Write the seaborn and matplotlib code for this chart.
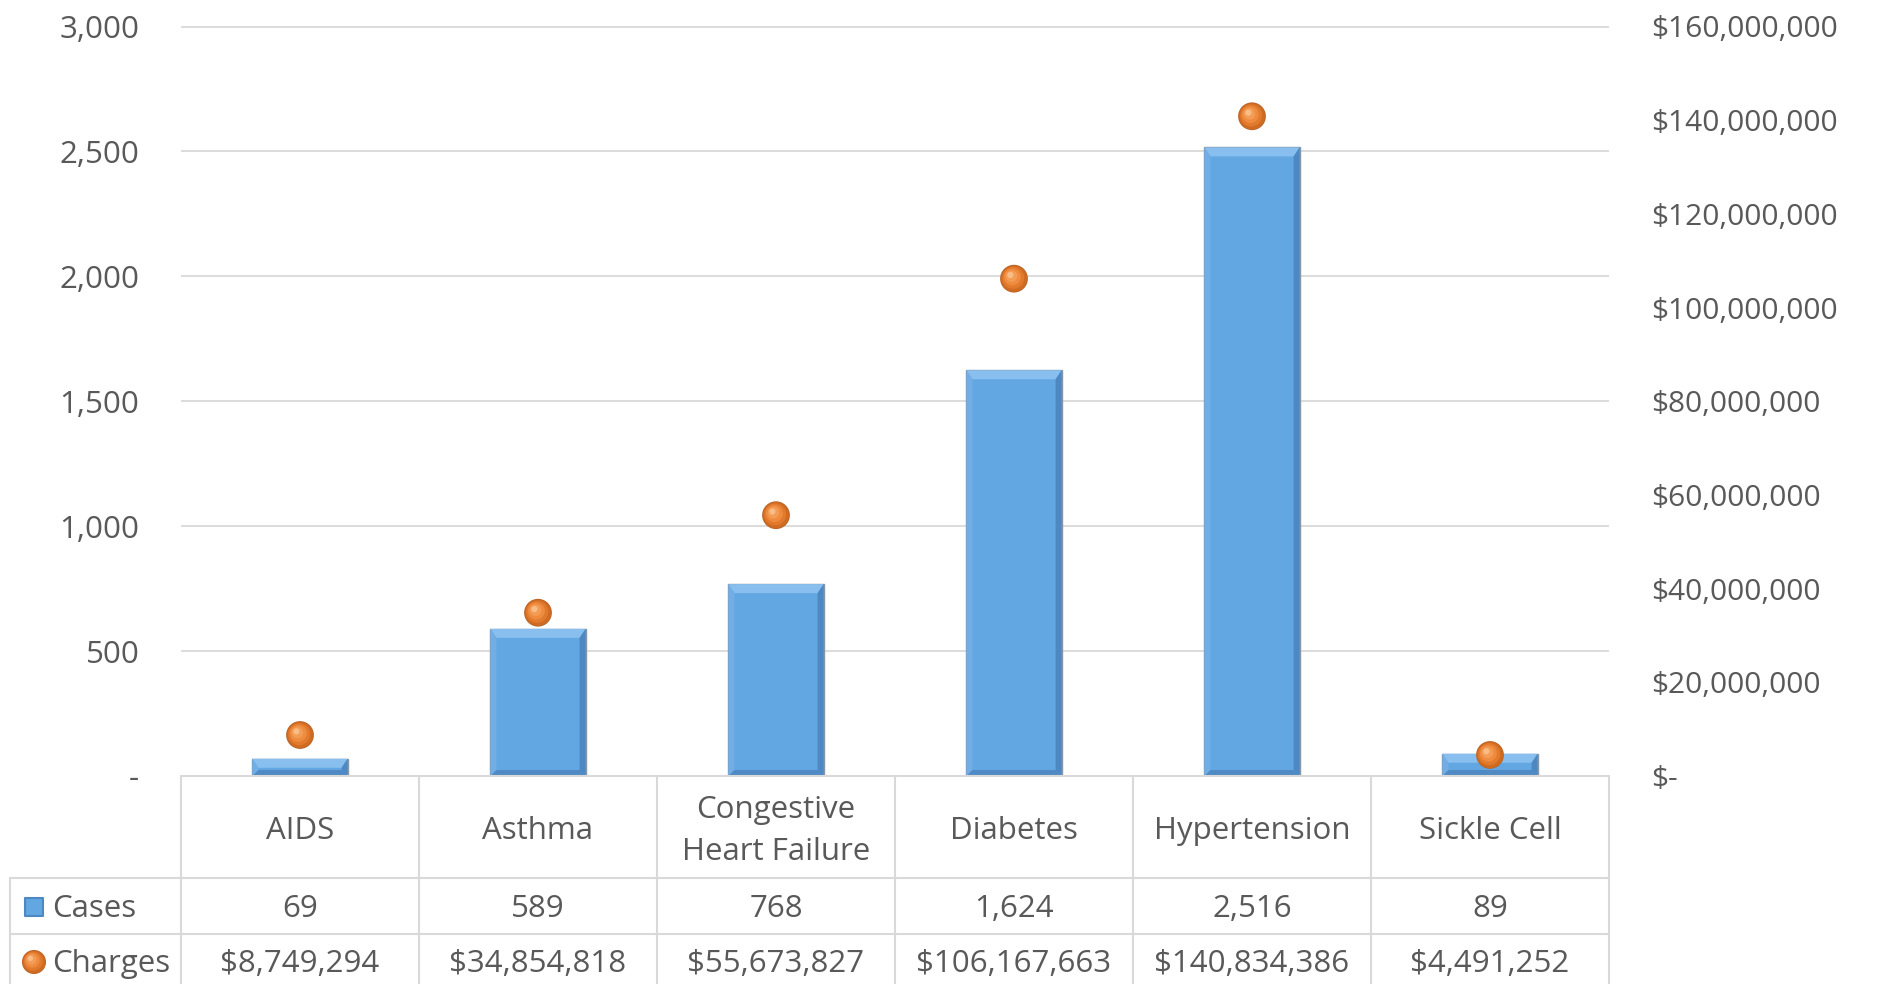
import numpy as np
import pandas as pd
import matplotlib
matplotlib.use("Agg")
import matplotlib.pyplot as plt
from matplotlib.patches import Polygon
from matplotlib.ticker import FuncFormatter, MultipleLocator
from matplotlib.transforms import ScaledTranslation
import seaborn as sns

# data
categories = ["AIDS", "Asthma", "Congestive Heart Failure", "Diabetes", "Hypertension", "Sickle Cell"]
category_labels = ["AIDS", "Asthma", "Congestive\nHeart Failure", "Diabetes", "Hypertension", "Sickle Cell"]
cases = [69, 589, 768, 1624, 2516, 89]
charges = [8749294, 34854818, 55673827, 106167663, 140834386, 4491252]
series_names = ["Cases", "Charges"]

BLUE = "#62A6E2"
TEXT = "#595959"
GRID = "#D9D9D9"
FS = 22.5

sns.set_theme(style="white")
plt.rcParams["font.family"] = ["Open Sans", "DejaVu Sans"]

W, H = 1887, 984
fig = plt.figure(figsize=(W / 100, H / 100), dpi=100)
left_px, right_px, top_px, base_px = 181, 1609, 26.5, 776
ax = fig.add_axes([left_px / W, 1 - base_px / H, (right_px - left_px) / W, (base_px - top_px) / H])

df = pd.DataFrame({"category": categories, "cases": cases, "charges": charges})
sns.barplot(data=df, x="category", y="cases", color=BLUE, width=0.4, saturation=1,
            edgecolor="#8497A8", linewidth=1.0, ax=ax, zorder=3)

# bevel look on each bar (pixel sizes converted to data units)
unit = (right_px - left_px) / 6
ypx = 3000 / (base_px - top_px)
top_b, side_b, bot_b = 9 * ypx, 6 / unit, 6 * ypx
for p in list(ax.patches):
    x0, y0 = p.get_x(), p.get_y()
    w, h = p.get_width(), p.get_height()
    x1, y1 = x0 + w, y0 + h
    f = min(1.0, h / (top_b + bot_b + 1e-9))
    t, b, s = top_b * f, bot_b * f, side_b
    faces = [
        ([(x0, y1), (x1, y1), (x1 - s, y1 - t), (x0 + s, y1 - t)], "#88BFEE"),
        ([(x0, y0), (x0, y1), (x0 + s, y1 - t), (x0 + s, y0 + b)], "#72AEE6"),
        ([(x1, y0), (x1, y1), (x1 - s, y1 - t), (x1 - s, y0 + b)], "#4D88C3"),
        ([(x0, y0), (x1, y0), (x1 - s, y0 + b), (x0 + s, y0 + b)], "#4F8AC4"),
    ]
    for pts, c in faces:
        ax.add_patch(Polygon(pts, closed=True, facecolor=c, edgecolor="none", zorder=3.5))

ax.set_xlim(-0.5, 5.5)
ax.set_ylim(0, 3000)
ax.yaxis.set_major_locator(MultipleLocator(500))
ax.yaxis.set_major_formatter(FuncFormatter(lambda v, _: "-" if v == 0 else f"{v:,.0f}"))
ax.set_xticks([])
ax.set_xlabel("")
ax.set_ylabel("")
ax.grid(axis="y", color=GRID, linewidth=1.3, zorder=0)
ax.set_axisbelow(True)
ax.tick_params(axis="y", length=0, pad=30, labelsize=FS, labelcolor=TEXT)
for sp in ax.spines.values():
    sp.set_visible(False)

# charges on secondary axis, drawn as shaded balls
ax2 = ax.twinx()
layers = [(400, "#B8652A", 0, 0), (350, "#D06B22", 0, 0), (250, "#E27A2D", -0.6, 0.6),
          (150, "#EE8B3E", -1.2, 1.2), (70, "#F39C55", -1.8, 1.8), (20, "#F8BC86", -2.6, 2.6)]
for size, c, dx, dy in layers:
    sns.scatterplot(x=categories, y=charges, ax=ax2, s=size, color=c, edgecolor="none", zorder=5, legend=False)
    coll = ax2.collections[-1]
    coll.set_offset_transform(ax2.transData + ScaledTranslation(dx / 72, dy / 72, fig.dpi_scale_trans))
ax2.set_xlim(-0.5, 5.5)
ax2.set_ylim(0, 160_000_000)
ax2.yaxis.set_major_locator(MultipleLocator(20_000_000))
ax2.yaxis.set_major_formatter(FuncFormatter(lambda v, _: "$-" if v == 0 else f"${v:,.0f}"))
ax2.tick_params(axis="y", length=0, pad=30, labelsize=21.5, labelcolor=TEXT)
ax2.set_ylabel("")
ax2.grid(False)
for sp in ax2.spines.values():
    sp.set_visible(False)

# data table below the plot, in pixel rows
lab_w = (left_px - 10) / unit
tax = fig.add_axes([10 / W, 0, (right_px - 10) / W, (H - base_px) / H])
tax.set_xlim(-0.5 - lab_w, 5.5)
tax.set_ylim(H - base_px, 0)
tax.axis("off")
row_y = [0, 102, 158, H - base_px + 2]
lc = dict(color=GRID, linewidth=1.5, clip_on=False)
tax.plot([-0.5, 5.5], [0, 0], **lc)
for yy in row_y[1:3]:
    tax.plot([-0.5 - lab_w, 5.5], [yy, yy], **lc)
for i in range(7):
    tax.plot([i - 0.5, i - 0.5], [0, row_y[-1]], **lc)
tax.plot([-0.5 - lab_w, -0.5 - lab_w], [row_y[1], row_y[-1]], **lc)

for i, lab in enumerate(category_labels):
    tax.text(i, 55, lab, ha="center", va="center", fontsize=FS, color=TEXT, linespacing=1.5)
for i, v in enumerate(cases):
    tax.text(i, 133, f"{v:,}", ha="center", va="center", fontsize=FS, color=TEXT)
for i, v in enumerate(charges):
    tax.text(i, 188, f"${v:,}", ha="center", va="center", fontsize=FS, color=TEXT)

mx = -0.5 - lab_w + 24 / unit
tx = -0.5 - lab_w + 42 / unit
tax.scatter([mx], [131], marker="s", s=150, color=BLUE, edgecolor="#4D88C3", linewidth=1.5, zorder=3, clip_on=False)
for size, c, dx, dy in layers:
    sc = tax.scatter([mx], [186], marker="o", s=size * 0.75, color=c, edgecolor="none", zorder=3, clip_on=False)
    sc.set_offset_transform(tax.transData + ScaledTranslation(dx / 72, dy / 72, fig.dpi_scale_trans))
tax.text(tx, 133, series_names[0], ha="left", va="center", fontsize=FS, color=TEXT)
tax.text(tx, 188, series_names[1], ha="left", va="center", fontsize=FS, color=TEXT)

fig.savefig("out.png", dpi=100, facecolor="white")
plt.close(fig)
